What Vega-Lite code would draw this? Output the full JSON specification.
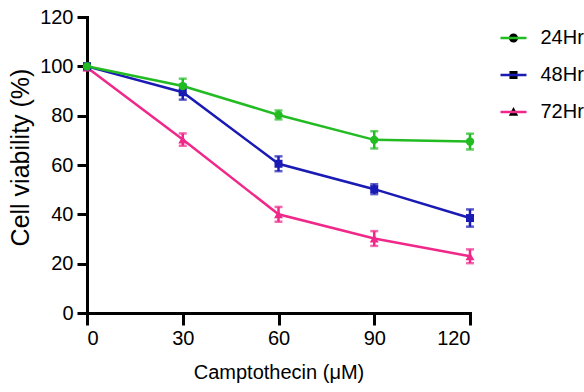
{
  "$schema": "https://vega.github.io/schema/vega-lite/v6.json",
  "width": 383,
  "height": 296,
  "autosize": {"type": "none"},
  "padding": {"left": 87, "top": 17, "right": 114, "bottom": 79},
  "background": "white",
  "config": {
    "font": "Liberation Sans",
    "view": {"stroke": null},
    "axis": {
      "grid": false,
      "domainColor": "black",
      "domainWidth": 3,
      "domainCap": "square",
      "tickColor": "black",
      "tickWidth": 3,
      "labelColor": "black",
      "labelFontSize": 20,
      "titleColor": "black",
      "titleFontWeight": "normal"
    }
  },
  "resolve": {"scale": {"color": "independent"}},
  "data": {
    "values": [
      {"series": "72Hr", "dose": 0, "mean": 99.5, "lo": 98.5, "hi": 100.5},
      {"series": "72Hr", "dose": 30, "mean": 70.3, "lo": 67.8, "hi": 72.8},
      {"series": "72Hr", "dose": 60, "mean": 40, "lo": 37, "hi": 43},
      {"series": "72Hr", "dose": 90, "mean": 30.2, "lo": 27.2, "hi": 33.2},
      {"series": "72Hr", "dose": 120, "mean": 23, "lo": 20.2, "hi": 25.8},
      {"series": "48Hr", "dose": 0, "mean": 100, "lo": 99, "hi": 101},
      {"series": "48Hr", "dose": 30, "mean": 89.5, "lo": 86.5, "hi": 92.5},
      {"series": "48Hr", "dose": 60, "mean": 60.5, "lo": 57.5, "hi": 63.5},
      {"series": "48Hr", "dose": 90, "mean": 50.2, "lo": 48.2, "hi": 52.2},
      {"series": "48Hr", "dose": 120, "mean": 38.5, "lo": 35, "hi": 42},
      {"series": "24Hr", "dose": 0, "mean": 100, "lo": 98.8, "hi": 101.2},
      {"series": "24Hr", "dose": 30, "mean": 92, "lo": 89, "hi": 95},
      {"series": "24Hr", "dose": 60, "mean": 80.3, "lo": 78.5, "hi": 82.1},
      {"series": "24Hr", "dose": 90, "mean": 70.2, "lo": 66.7, "hi": 73.7},
      {"series": "24Hr", "dose": 120, "mean": 69.5, "lo": 66.3, "hi": 72.7}
    ]
  },
  "encoding": {
    "x": {
      "field": "dose",
      "type": "quantitative",
      "scale": {"domain": [0, 120], "nice": false, "zero": false},
      "axis": {
        "values": [0, 30, 60, 90, 120],
        "tickSize": 12,
        "labelPadding": 3,
        "title": "Camptothecin (μM)",
        "titleFontSize": 20,
        "titlePadding": 14
      }
    },
    "color": {
      "field": "series",
      "type": "nominal",
      "scale": {"domain": ["24Hr", "48Hr", "72Hr"], "range": ["#22bb22", "#1a1ab4", "#f0288a"]},
      "legend": null
    }
  },
  "layer": [
    {
      "mark": {"type": "errorbar", "ticks": {"size": 8, "thickness": 2.5}, "rule": {"strokeWidth": 2.5}},
      "encoding": {
        "y": {"field": "lo", "type": "quantitative", "title": "Cell viability (%)"},
        "y2": {"field": "hi"}
      }
    },
    {
      "mark": {"type": "line", "strokeWidth": 2.5},
      "encoding": {
        "y": {
          "field": "mean",
          "type": "quantitative",
          "title": "Cell viability (%)",
          "scale": {"domain": [0, 120], "nice": false},
          "axis": {
            "values": [0, 20, 40, 60, 80, 100, 120],
            "tickSize": 10,
            "labelPadding": 4,
            "title": "Cell viability (%)",
            "titleFontSize": 25,
            "titlePadding": 6,
            "titleY": 140
          }
        }
      }
    },
    {
      "transform": [{"filter": "datum.series == '72Hr'"}],
      "mark": {"type": "point", "shape": "triangle-up", "filled": true, "opacity": 1, "size": 80},
      "encoding": {"y": {"field": "mean", "type": "quantitative", "title": "Cell viability (%)"}}
    },
    {
      "transform": [{"filter": "datum.series == '48Hr'"}],
      "mark": {"type": "point", "shape": "square", "filled": true, "opacity": 1, "size": 64},
      "encoding": {"y": {"field": "mean", "type": "quantitative", "title": "Cell viability (%)"}}
    },
    {
      "transform": [{"filter": "datum.series == '24Hr'"}],
      "mark": {"type": "point", "shape": "circle", "filled": true, "opacity": 1, "size": 70},
      "encoding": {"y": {"field": "mean", "type": "quantitative", "title": "Cell viability (%)"}}
    },
    {
      "transform": [{"filter": "false"}],
      "mark": {"type": "point", "filled": true, "opacity": 1},
      "encoding": {
        "y": {"field": "mean", "type": "quantitative", "title": "Cell viability (%)"},
        "color": {
          "field": "series",
          "type": "nominal",
          "scale": {"domain": ["24Hr", "48Hr", "72Hr"], "range": ["#22bb22", "#1a1ab4", "#f0288a"]},
          "legend": {
            "title": null,
            "orient": "none",
            "legendX": 413.5,
            "legendY": 8,
            "symbolType": "M-1,-0.096H1V0.096H-1Z",
            "symbolSize": 676,
            "symbolStrokeWidth": 0,
            "symbolOpacity": 1,
            "labelFontSize": 20,
            "labelColor": "black",
            "labelOffset": 14,
            "rowPadding": 14
          }
        },
        "shape": {
          "field": "series",
          "type": "nominal",
          "scale": {
            "domain": ["24Hr", "48Hr", "72Hr"],
            "range": [
              "M-0.35,0A0.35,0.35,0,0,1,0.35,0A0.35,0.35,0,0,1,-0.35,0Z",
              "M-0.31,-0.31H0.31V0.31H-0.31Z",
              "M0,-0.38L0.36,0.28H-0.36Z"
            ]
          },
          "legend": {
            "title": null,
            "orient": "none",
            "legendX": 413.5,
            "legendY": 8,
            "symbolSize": 676,
            "symbolStrokeWidth": 0,
            "symbolOpacity": 1,
            "labelFontSize": 20,
            "labelExpr": "''",
            "labelOffset": 14,
            "rowPadding": 14,
            "encode": {
              "symbols": {
                "fill": {"value": {"expr": "datum.value === '24Hr' ? '#22bb22' : (datum.value === '48Hr' ? '#1a1ab4' : '#f0288a')"}}
              }
            }
          }
        }
      }
    }
  ]
}
